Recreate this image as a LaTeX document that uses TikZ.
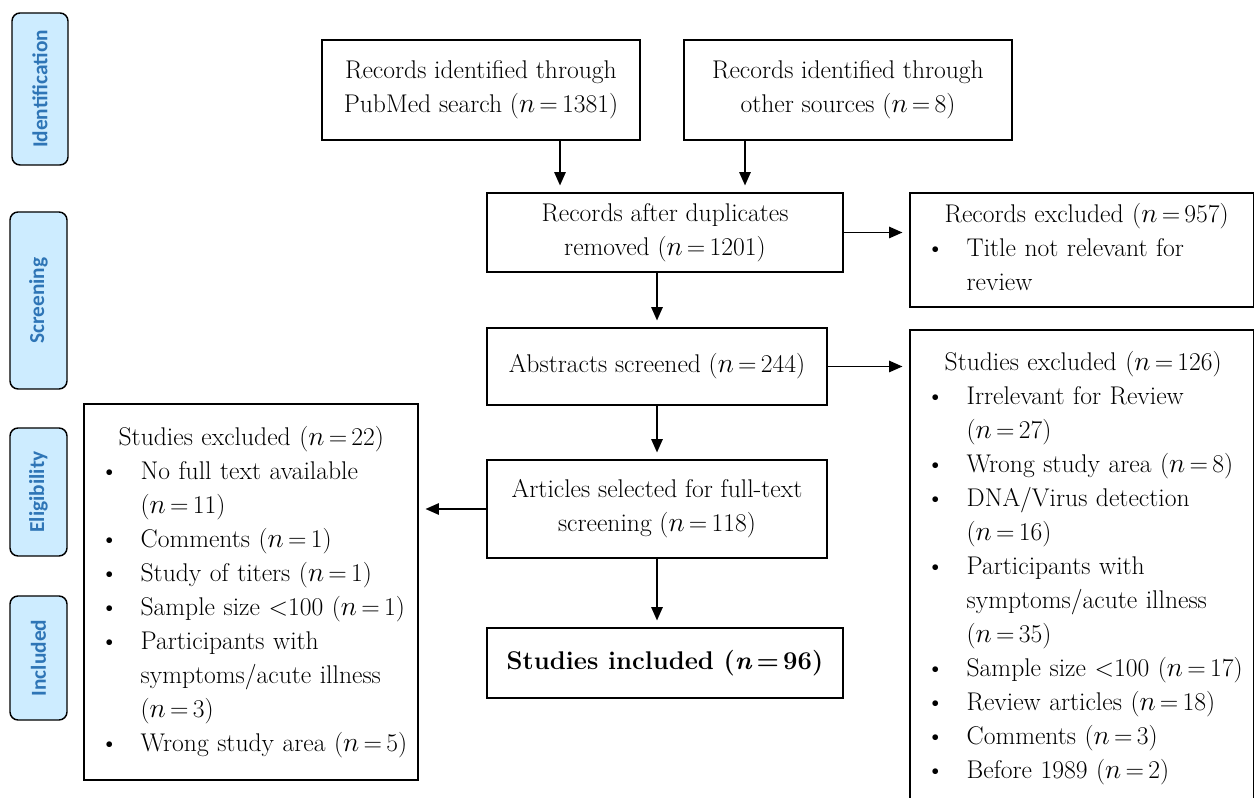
\documentclass[tikz,border=0pt]{standalone}
\usepackage{fontspec}
\newfontfamily\sidefont{Carlito}
\usetikzlibrary{arrows.meta, calc, positioning}

\definecolor{phasefill}{RGB}{205,236,255}
\definecolor{phasetext}{RGB}{46,117,182}

\newcommand{\mainsz}{\fontsize{19.2}{25.5}\selectfont}
\newcommand{\nv}[1]{($n$\,=\,#1)}
\newcommand{\hd}[1]{\strut\mbox{\hspace*{14pt}#1}}
\newcommand{\bul}[1]{\strut\mbox{\makebox[30.5pt][l]{\textbullet}#1}}
\newcommand{\cnt}[1]{\strut\mbox{\hspace*{30.5pt}#1}}

\tikzset{
	box/.style={draw, line width=1.3pt, align=center, font=\mainsz, inner sep=0pt},
	listbox/.style={draw, line width=1.3pt, align=left, font=\mainsz, inner xsep=12pt, inner ysep=0pt},
	phase/.style={draw, line width=1.1pt, rounded corners=6pt, fill=phasefill, text=phasetext,
		font=\sidefont\bfseries\fontsize{16}{18}\selectfont, rotate=90},
	arr/.style={-{Triangle[length=10pt,width=8.5pt]}, line width=1.3pt, shorten >=5pt}
}

\begin{document}
\begin{tikzpicture}[x=0.75pt, y=-0.75pt]
	\useasboundingbox (0,0) rectangle (1254,798);

	% phases
	\node[phase, minimum width=114pt, minimum height=42pt] (pid) at (40,89) {Identification};
	\node[phase, minimum width=132.75pt, minimum height=42.75pt] (pscr) at (38.5,300.5) {Screening};
	\node[phase, minimum width=96pt, minimum height=42.75pt] (pelig) at (38.5,492) {Eligibility};
	\node[phase, minimum width=93pt, minimum height=42.75pt] (pinc) at (38.5,658) {Included};

	% main column
	\node[box, minimum width=238.5pt, minimum height=75pt] (pubmed) at (481,90)
		{Records identified through\\PubMed search \nv{1381}};
	\node[box, minimum width=246pt, minimum height=75pt] (other) at (848,90)
		{Records identified through\\other sources \nv{8}};
	\node[box, minimum width=267pt, minimum height=59.25pt] (dupl) at (665,232.5)
		{Records after duplicates\\removed \nv{1201}};
	\node[box, minimum width=255pt, minimum height=57.75pt] (abstr) at (657,366.5)
		{Abstracts screened \nv{244}};
	\node[box, minimum width=255pt, minimum height=73.5pt] (full) at (657,509)
		{Articles selected for full-text\\screening \nv{118}};
	\node[box, minimum width=267pt, minimum height=52.5pt] (incl) at (665,663)
		{\textbf{Studies included (\textit{n}\,=\,96)}};

	% exclusions
	\node[listbox, text width=234pt, minimum width=258pt, minimum height=85.5pt] (exrec) at (1082,250)
		{\hd{Records excluded \nv{957}}\\
		 \bul{Title not relevant for}\\
		 \cnt{review}};
	\node[listbox, text width=234pt, minimum width=258pt, minimum height=356.25pt] (exabs) at (1082,567.5)
		{\hd{Studies excluded \nv{126}}\\
		 \bul{Irrelevant for Review}\\
		 \cnt{\nv{27}}\\
		 \bul{Wrong study area \nv{8}}\\
		 \bul{DNA/Virus detection}\\
		 \cnt{\nv{16}}\\
		 \bul{Participants with}\\
		 \cnt{symptoms/acute illness}\\
		 \cnt{\nv{35}}\\
		 \bul{Sample size <100 \nv{17}}\\
		 \bul{Review articles \nv{18}}\\
		 \bul{Comments \nv{3}}\\
		 \bul{Before 1989 \nv{2}}};
	\node[listbox, text width=226.5pt, minimum width=250.5pt, minimum height=282pt] (exfull) at (251,592)
		{\hd{Studies excluded \nv{22}}\\
		 \bul{No full text available}\\
		 \cnt{\nv{11}}\\
		 \bul{Comments \nv{1}}\\
		 \bul{Study of titers \nv{1}}\\
		 \bul{Sample size <100 \nv{1}}\\
		 \bul{Participants with}\\
		 \cnt{symptoms/acute illness}\\
		 \cnt{\nv{3}}\\
		 \bul{Wrong study area \nv{5}}};

	% arrows
	\coordinate (ax) at (560,0);
	\coordinate (bx) at (745,0);
	\draw[arr] (pubmed.south -| ax) -- (dupl.north -| ax);
	\draw[arr] (other.south -| bx) -- (dupl.north -| bx);
	\draw[arr] (dupl.east) -- (exrec.west |- dupl.east);
	\draw[arr] (dupl.south -| abstr.north) -- (abstr.north);
	\draw[arr] (abstr.east) -- (exabs.west |- abstr.east);
	\draw[arr] (abstr.south) -- (full.north);
	\draw[arr] (full.west) -- (exfull.east |- full.west);
	\draw[arr] (full.south) -- (incl.north -| full.south);
\end{tikzpicture}
\end{document}
